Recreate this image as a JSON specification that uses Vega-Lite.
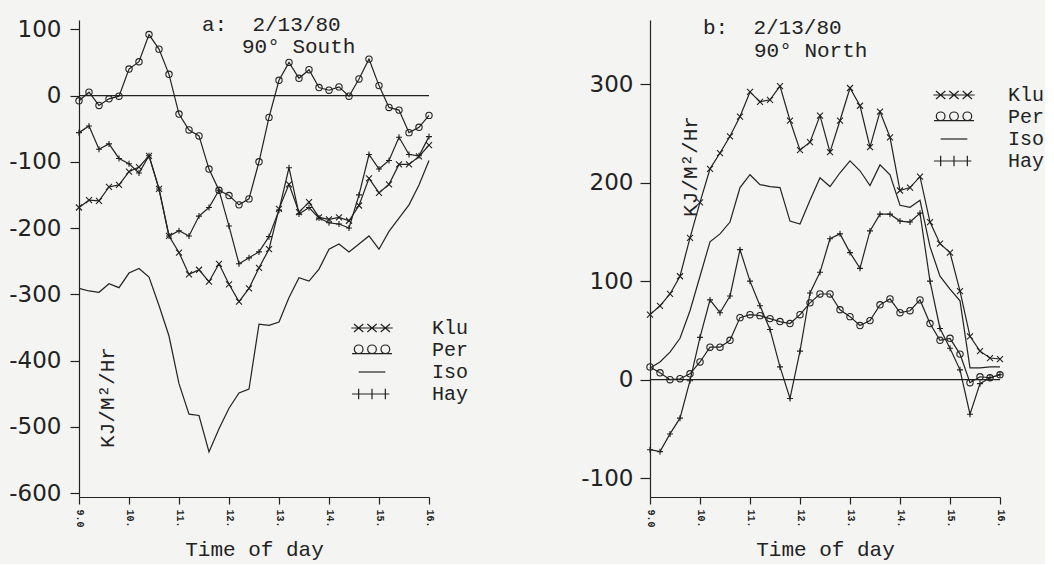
{
  "$schema": "https://vega.github.io/schema/vega-lite/v6.json",
  "background": "#f4f4f2",
  "padding": {"left": 8, "top": 13, "right": 0, "bottom": 4},
  "config": {
    "view": {"stroke": null},
    "axis": {"grid": false, "domainColor": "#222", "tickColor": "#222", "labelColor": "#222", "titleColor": "#222", "domainWidth": 1.2, "tickWidth": 1.2},
    "text": {"font": "Liberation Mono", "fontSize": 21, "color": "#222", "align": "left", "baseline": "alphabetic"}
  },
  "resolve": {"scale": {"shape": "independent"}, "legend": {"shape": "independent"}},
  "spacing": 111,
  "data": {"values": [
    {"panel":"a","series":"Klu","time":9,"value":-169},{"panel":"a","series":"Klu","time":9.2,"value":-158},{"panel":"a","series":"Klu","time":9.4,"value":-159},{"panel":"a","series":"Klu","time":9.6,"value":-138},{"panel":"a","series":"Klu","time":9.8,"value":-135},{"panel":"a","series":"Klu","time":10,"value":-115},{"panel":"a","series":"Klu","time":10.2,"value":-108},{"panel":"a","series":"Klu","time":10.4,"value":-91},{"panel":"a","series":"Klu","time":10.6,"value":-141},{"panel":"a","series":"Klu","time":10.8,"value":-212},{"panel":"a","series":"Klu","time":11,"value":-237},{"panel":"a","series":"Klu","time":11.2,"value":-270},{"panel":"a","series":"Klu","time":11.4,"value":-263},{"panel":"a","series":"Klu","time":11.6,"value":-281},{"panel":"a","series":"Klu","time":11.8,"value":-254},{"panel":"a","series":"Klu","time":12,"value":-285},{"panel":"a","series":"Klu","time":12.2,"value":-311},{"panel":"a","series":"Klu","time":12.4,"value":-291},{"panel":"a","series":"Klu","time":12.6,"value":-260},{"panel":"a","series":"Klu","time":12.8,"value":-232},{"panel":"a","series":"Klu","time":13,"value":-171},{"panel":"a","series":"Klu","time":13.2,"value":-134},{"panel":"a","series":"Klu","time":13.4,"value":-176},{"panel":"a","series":"Klu","time":13.6,"value":-161},{"panel":"a","series":"Klu","time":13.8,"value":-184},{"panel":"a","series":"Klu","time":14,"value":-187},{"panel":"a","series":"Klu","time":14.2,"value":-184},{"panel":"a","series":"Klu","time":14.4,"value":-189},{"panel":"a","series":"Klu","time":14.6,"value":-166},{"panel":"a","series":"Klu","time":14.8,"value":-125},{"panel":"a","series":"Klu","time":15,"value":-147},{"panel":"a","series":"Klu","time":15.2,"value":-134},{"panel":"a","series":"Klu","time":15.4,"value":-104},{"panel":"a","series":"Klu","time":15.6,"value":-104},{"panel":"a","series":"Klu","time":15.8,"value":-92},{"panel":"a","series":"Klu","time":16,"value":-75},
    {"panel":"a","series":"Per","time":9,"value":-8},{"panel":"a","series":"Per","time":9.2,"value":5},{"panel":"a","series":"Per","time":9.4,"value":-15},{"panel":"a","series":"Per","time":9.6,"value":-5},{"panel":"a","series":"Per","time":9.8,"value":-1},{"panel":"a","series":"Per","time":10,"value":40},{"panel":"a","series":"Per","time":10.2,"value":51},{"panel":"a","series":"Per","time":10.4,"value":92},{"panel":"a","series":"Per","time":10.6,"value":70},{"panel":"a","series":"Per","time":10.8,"value":32},{"panel":"a","series":"Per","time":11,"value":-28},{"panel":"a","series":"Per","time":11.2,"value":-52},{"panel":"a","series":"Per","time":11.4,"value":-61},{"panel":"a","series":"Per","time":11.6,"value":-111},{"panel":"a","series":"Per","time":11.8,"value":-143},{"panel":"a","series":"Per","time":12,"value":-151},{"panel":"a","series":"Per","time":12.2,"value":-165},{"panel":"a","series":"Per","time":12.4,"value":-156},{"panel":"a","series":"Per","time":12.6,"value":-100},{"panel":"a","series":"Per","time":12.8,"value":-33},{"panel":"a","series":"Per","time":13,"value":23},{"panel":"a","series":"Per","time":13.2,"value":50},{"panel":"a","series":"Per","time":13.4,"value":26},{"panel":"a","series":"Per","time":13.6,"value":39},{"panel":"a","series":"Per","time":13.8,"value":12},{"panel":"a","series":"Per","time":14,"value":8},{"panel":"a","series":"Per","time":14.2,"value":13},{"panel":"a","series":"Per","time":14.4,"value":-1},{"panel":"a","series":"Per","time":14.6,"value":25},{"panel":"a","series":"Per","time":14.8,"value":55},{"panel":"a","series":"Per","time":15,"value":15},{"panel":"a","series":"Per","time":15.2,"value":-18},{"panel":"a","series":"Per","time":15.4,"value":-22},{"panel":"a","series":"Per","time":15.6,"value":-56},{"panel":"a","series":"Per","time":15.8,"value":-48},{"panel":"a","series":"Per","time":16,"value":-30},
    {"panel":"a","series":"Iso","time":9,"value":-291},{"panel":"a","series":"Iso","time":9.2,"value":-295},{"panel":"a","series":"Iso","time":9.4,"value":-297},{"panel":"a","series":"Iso","time":9.6,"value":-284},{"panel":"a","series":"Iso","time":9.8,"value":-290},{"panel":"a","series":"Iso","time":10,"value":-268},{"panel":"a","series":"Iso","time":10.2,"value":-261},{"panel":"a","series":"Iso","time":10.4,"value":-274},{"panel":"a","series":"Iso","time":10.6,"value":-317},{"panel":"a","series":"Iso","time":10.8,"value":-363},{"panel":"a","series":"Iso","time":11,"value":-435},{"panel":"a","series":"Iso","time":11.2,"value":-481},{"panel":"a","series":"Iso","time":11.4,"value":-483},{"panel":"a","series":"Iso","time":11.6,"value":-538},{"panel":"a","series":"Iso","time":11.8,"value":-503},{"panel":"a","series":"Iso","time":12,"value":-472},{"panel":"a","series":"Iso","time":12.2,"value":-449},{"panel":"a","series":"Iso","time":12.4,"value":-443},{"panel":"a","series":"Iso","time":12.6,"value":-345},{"panel":"a","series":"Iso","time":12.8,"value":-347},{"panel":"a","series":"Iso","time":13,"value":-342},{"panel":"a","series":"Iso","time":13.2,"value":-305},{"panel":"a","series":"Iso","time":13.4,"value":-275},{"panel":"a","series":"Iso","time":13.6,"value":-280},{"panel":"a","series":"Iso","time":13.8,"value":-262},{"panel":"a","series":"Iso","time":14,"value":-232},{"panel":"a","series":"Iso","time":14.2,"value":-224},{"panel":"a","series":"Iso","time":14.4,"value":-236},{"panel":"a","series":"Iso","time":14.6,"value":-224},{"panel":"a","series":"Iso","time":14.8,"value":-212},{"panel":"a","series":"Iso","time":15,"value":-232},{"panel":"a","series":"Iso","time":15.2,"value":-205},{"panel":"a","series":"Iso","time":15.4,"value":-185},{"panel":"a","series":"Iso","time":15.6,"value":-165},{"panel":"a","series":"Iso","time":15.8,"value":-135},{"panel":"a","series":"Iso","time":16,"value":-98},
    {"panel":"a","series":"Hay","time":9,"value":-56},{"panel":"a","series":"Hay","time":9.2,"value":-46},{"panel":"a","series":"Hay","time":9.4,"value":-81},{"panel":"a","series":"Hay","time":9.6,"value":-73},{"panel":"a","series":"Hay","time":9.8,"value":-95},{"panel":"a","series":"Hay","time":10,"value":-103},{"panel":"a","series":"Hay","time":10.2,"value":-117},{"panel":"a","series":"Hay","time":10.4,"value":-91},{"panel":"a","series":"Hay","time":10.6,"value":-141},{"panel":"a","series":"Hay","time":10.8,"value":-212},{"panel":"a","series":"Hay","time":11,"value":-204},{"panel":"a","series":"Hay","time":11.2,"value":-212},{"panel":"a","series":"Hay","time":11.4,"value":-182},{"panel":"a","series":"Hay","time":11.6,"value":-169},{"panel":"a","series":"Hay","time":11.8,"value":-143},{"panel":"a","series":"Hay","time":12,"value":-197},{"panel":"a","series":"Hay","time":12.2,"value":-254},{"panel":"a","series":"Hay","time":12.4,"value":-245},{"panel":"a","series":"Hay","time":12.6,"value":-236},{"panel":"a","series":"Hay","time":12.8,"value":-213},{"panel":"a","series":"Hay","time":13,"value":-173},{"panel":"a","series":"Hay","time":13.2,"value":-109},{"panel":"a","series":"Hay","time":13.4,"value":-179},{"panel":"a","series":"Hay","time":13.6,"value":-169},{"panel":"a","series":"Hay","time":13.8,"value":-185},{"panel":"a","series":"Hay","time":14,"value":-192},{"panel":"a","series":"Hay","time":14.2,"value":-194},{"panel":"a","series":"Hay","time":14.4,"value":-200},{"panel":"a","series":"Hay","time":14.6,"value":-150},{"panel":"a","series":"Hay","time":14.8,"value":-89},{"panel":"a","series":"Hay","time":15,"value":-111},{"panel":"a","series":"Hay","time":15.2,"value":-98},{"panel":"a","series":"Hay","time":15.4,"value":-63},{"panel":"a","series":"Hay","time":15.6,"value":-89},{"panel":"a","series":"Hay","time":15.8,"value":-91},{"panel":"a","series":"Hay","time":16,"value":-62},
    {"panel":"b","series":"Klu","time":9,"value":66},{"panel":"b","series":"Klu","time":9.2,"value":75},{"panel":"b","series":"Klu","time":9.4,"value":87},{"panel":"b","series":"Klu","time":9.6,"value":105},{"panel":"b","series":"Klu","time":9.8,"value":144},{"panel":"b","series":"Klu","time":10,"value":180},{"panel":"b","series":"Klu","time":10.2,"value":214},{"panel":"b","series":"Klu","time":10.4,"value":230},{"panel":"b","series":"Klu","time":10.6,"value":247},{"panel":"b","series":"Klu","time":10.8,"value":267},{"panel":"b","series":"Klu","time":11,"value":292},{"panel":"b","series":"Klu","time":11.2,"value":282},{"panel":"b","series":"Klu","time":11.4,"value":284},{"panel":"b","series":"Klu","time":11.6,"value":298},{"panel":"b","series":"Klu","time":11.8,"value":263},{"panel":"b","series":"Klu","time":12,"value":233},{"panel":"b","series":"Klu","time":12.2,"value":241},{"panel":"b","series":"Klu","time":12.4,"value":268},{"panel":"b","series":"Klu","time":12.6,"value":231},{"panel":"b","series":"Klu","time":12.8,"value":263},{"panel":"b","series":"Klu","time":13,"value":296},{"panel":"b","series":"Klu","time":13.2,"value":278},{"panel":"b","series":"Klu","time":13.4,"value":236},{"panel":"b","series":"Klu","time":13.6,"value":272},{"panel":"b","series":"Klu","time":13.8,"value":246},{"panel":"b","series":"Klu","time":14,"value":192},{"panel":"b","series":"Klu","time":14.2,"value":195},{"panel":"b","series":"Klu","time":14.4,"value":206},{"panel":"b","series":"Klu","time":14.6,"value":160},{"panel":"b","series":"Klu","time":14.8,"value":138},{"panel":"b","series":"Klu","time":15,"value":129},{"panel":"b","series":"Klu","time":15.2,"value":90},{"panel":"b","series":"Klu","time":15.4,"value":44},{"panel":"b","series":"Klu","time":15.6,"value":29},{"panel":"b","series":"Klu","time":15.8,"value":22},{"panel":"b","series":"Klu","time":16,"value":21},
    {"panel":"b","series":"Per","time":9,"value":13},{"panel":"b","series":"Per","time":9.2,"value":7},{"panel":"b","series":"Per","time":9.4,"value":0},{"panel":"b","series":"Per","time":9.6,"value":1},{"panel":"b","series":"Per","time":9.8,"value":6},{"panel":"b","series":"Per","time":10,"value":18},{"panel":"b","series":"Per","time":10.2,"value":33},{"panel":"b","series":"Per","time":10.4,"value":33},{"panel":"b","series":"Per","time":10.6,"value":40},{"panel":"b","series":"Per","time":10.8,"value":63},{"panel":"b","series":"Per","time":11,"value":66},{"panel":"b","series":"Per","time":11.2,"value":65},{"panel":"b","series":"Per","time":11.4,"value":62},{"panel":"b","series":"Per","time":11.6,"value":59},{"panel":"b","series":"Per","time":11.8,"value":57},{"panel":"b","series":"Per","time":12,"value":66},{"panel":"b","series":"Per","time":12.2,"value":78},{"panel":"b","series":"Per","time":12.4,"value":87},{"panel":"b","series":"Per","time":12.6,"value":87},{"panel":"b","series":"Per","time":12.8,"value":71},{"panel":"b","series":"Per","time":13,"value":64},{"panel":"b","series":"Per","time":13.2,"value":55},{"panel":"b","series":"Per","time":13.4,"value":60},{"panel":"b","series":"Per","time":13.6,"value":76},{"panel":"b","series":"Per","time":13.8,"value":82},{"panel":"b","series":"Per","time":14,"value":68},{"panel":"b","series":"Per","time":14.2,"value":70},{"panel":"b","series":"Per","time":14.4,"value":81},{"panel":"b","series":"Per","time":14.6,"value":57},{"panel":"b","series":"Per","time":14.8,"value":40},{"panel":"b","series":"Per","time":15,"value":42},{"panel":"b","series":"Per","time":15.2,"value":26},{"panel":"b","series":"Per","time":15.4,"value":-3},{"panel":"b","series":"Per","time":15.6,"value":3},{"panel":"b","series":"Per","time":15.8,"value":2},{"panel":"b","series":"Per","time":16,"value":5},
    {"panel":"b","series":"Iso","time":9,"value":12},{"panel":"b","series":"Iso","time":9.2,"value":18},{"panel":"b","series":"Iso","time":9.4,"value":28},{"panel":"b","series":"Iso","time":9.6,"value":42},{"panel":"b","series":"Iso","time":9.8,"value":70},{"panel":"b","series":"Iso","time":10,"value":105},{"panel":"b","series":"Iso","time":10.2,"value":140},{"panel":"b","series":"Iso","time":10.4,"value":148},{"panel":"b","series":"Iso","time":10.6,"value":160},{"panel":"b","series":"Iso","time":10.8,"value":195},{"panel":"b","series":"Iso","time":11,"value":208},{"panel":"b","series":"Iso","time":11.2,"value":198},{"panel":"b","series":"Iso","time":11.4,"value":196},{"panel":"b","series":"Iso","time":11.6,"value":195},{"panel":"b","series":"Iso","time":11.8,"value":161},{"panel":"b","series":"Iso","time":12,"value":158},{"panel":"b","series":"Iso","time":12.2,"value":182},{"panel":"b","series":"Iso","time":12.4,"value":205},{"panel":"b","series":"Iso","time":12.6,"value":196},{"panel":"b","series":"Iso","time":12.8,"value":210},{"panel":"b","series":"Iso","time":13,"value":222},{"panel":"b","series":"Iso","time":13.2,"value":212},{"panel":"b","series":"Iso","time":13.4,"value":197},{"panel":"b","series":"Iso","time":13.6,"value":218},{"panel":"b","series":"Iso","time":13.8,"value":208},{"panel":"b","series":"Iso","time":14,"value":177},{"panel":"b","series":"Iso","time":14.2,"value":175},{"panel":"b","series":"Iso","time":14.4,"value":182},{"panel":"b","series":"Iso","time":14.6,"value":135},{"panel":"b","series":"Iso","time":14.8,"value":105},{"panel":"b","series":"Iso","time":15,"value":92},{"panel":"b","series":"Iso","time":15.2,"value":80},{"panel":"b","series":"Iso","time":15.4,"value":12},{"panel":"b","series":"Iso","time":15.6,"value":12},{"panel":"b","series":"Iso","time":15.8,"value":13},{"panel":"b","series":"Iso","time":16,"value":13},
    {"panel":"b","series":"Hay","time":9,"value":-71},{"panel":"b","series":"Hay","time":9.2,"value":-73},{"panel":"b","series":"Hay","time":9.4,"value":-55},{"panel":"b","series":"Hay","time":9.6,"value":-39},{"panel":"b","series":"Hay","time":9.8,"value":-1},{"panel":"b","series":"Hay","time":10,"value":43},{"panel":"b","series":"Hay","time":10.2,"value":81},{"panel":"b","series":"Hay","time":10.4,"value":68},{"panel":"b","series":"Hay","time":10.6,"value":85},{"panel":"b","series":"Hay","time":10.8,"value":132},{"panel":"b","series":"Hay","time":11,"value":100},{"panel":"b","series":"Hay","time":11.2,"value":75},{"panel":"b","series":"Hay","time":11.4,"value":51},{"panel":"b","series":"Hay","time":11.6,"value":13},{"panel":"b","series":"Hay","time":11.8,"value":-19},{"panel":"b","series":"Hay","time":12,"value":29},{"panel":"b","series":"Hay","time":12.2,"value":88},{"panel":"b","series":"Hay","time":12.4,"value":109},{"panel":"b","series":"Hay","time":12.6,"value":143},{"panel":"b","series":"Hay","time":12.8,"value":148},{"panel":"b","series":"Hay","time":13,"value":129},{"panel":"b","series":"Hay","time":13.2,"value":113},{"panel":"b","series":"Hay","time":13.4,"value":151},{"panel":"b","series":"Hay","time":13.6,"value":168},{"panel":"b","series":"Hay","time":13.8,"value":168},{"panel":"b","series":"Hay","time":14,"value":161},{"panel":"b","series":"Hay","time":14.2,"value":160},{"panel":"b","series":"Hay","time":14.4,"value":169},{"panel":"b","series":"Hay","time":14.6,"value":100},{"panel":"b","series":"Hay","time":14.8,"value":52},{"panel":"b","series":"Hay","time":15,"value":32},{"panel":"b","series":"Hay","time":15.2,"value":10},{"panel":"b","series":"Hay","time":15.4,"value":-35},{"panel":"b","series":"Hay","time":15.6,"value":-4},{"panel":"b","series":"Hay","time":15.8,"value":2},{"panel":"b","series":"Hay","time":16,"value":5}
  ]},
  "hconcat": [
    {
      "width": 350, "height": 477,
      "transform": [{"filter": "datum.panel == 'a'"}],
      "layer": [
        {"data": {"values": [{}]}, "mark": {"type": "rule", "color": "#222", "strokeWidth": 1.2}, "encoding": {"y": {"datum": 0, "type": "quantitative"}}},
        {"mark": {"type": "line", "color": "#222", "strokeWidth": 1.2},
         "encoding": {
           "x": {"field": "time", "type": "quantitative", "scale": {"domain": [9, 16], "nice": false, "zero": false},
                 "axis": {"values": [9, 10, 11, 12, 13, 14, 15, 16], "labelExpr": "datum.value == 9 ? '9.0' : datum.value + '.'", "labelAngle": 90, "labelAlign": "left", "labelBaseline": "middle", "labelFont": "Liberation Mono", "labelFontSize": 10, "labelFontWeight": "bold", "tickSize": 7, "labelPadding": 5, "title": "Time of day", "titleFont": "Liberation Mono", "titleFontSize": 21, "titleFontWeight": "normal", "titlePadding": 11}},
           "y": {"field": "value", "type": "quantitative", "scale": {"domain": [-606, 114], "nice": false, "zero": false},
                 "axis": {"values": [100, 0, -100, -200, -300, -400, -500, -600], "labelExpr": "'' + datum.value", "labelFont": "DejaVu Sans", "labelFontSize": 23, "tickSize": 9, "labelPadding": 9, "title": "KJ/M²/Hr", "titleFont": "Liberation Mono", "titleFontSize": 21, "titleFontWeight": "normal", "titleAngle": 270, "titleX": 28, "titleY": 377, "titleAlign": "center", "titleBaseline": "middle"}},
           "detail": {"field": "series", "type": "nominal"}
         }},
        {"transform": [{"filter": "datum.series == 'Klu'"}], "mark": {"type": "point", "shape": "M-1,-1L1,1M-1,1L1,-1", "size": 36, "filled": false, "color": "#222", "strokeWidth": 1.1, "opacity": 1},
         "encoding": {"x": {"field": "time", "type": "quantitative"}, "y": {"field": "value", "type": "quantitative"}}},
        {"transform": [{"filter": "datum.series == 'Per'"}], "mark": {"type": "point", "shape": "circle", "size": 40, "filled": false, "color": "#222", "strokeWidth": 1.1, "opacity": 1},
         "encoding": {"x": {"field": "time", "type": "quantitative"}, "y": {"field": "value", "type": "quantitative"}}},
        {"transform": [{"filter": "datum.series == 'Hay'"}], "mark": {"type": "point", "shape": "M-1,0L1,0M0,-1L0,1", "size": 36, "filled": false, "color": "#222", "strokeWidth": 1.1, "opacity": 1},
         "encoding": {"x": {"field": "time", "type": "quantitative"}, "y": {"field": "value", "type": "quantitative"}}},
        {"data": {"values": [{}]}, "mark": {"type": "text"}, "encoding": {"x": {"datum": 11.46, "type": "quantitative"}, "y": {"datum": 97.4, "type": "quantitative"}, "text": {"value": "a:\u00a0\u00a02/13/80"}}},
        {"data": {"values": [{}]}, "mark": {"type": "text"}, "encoding": {"x": {"datum": 12.26, "type": "quantitative"}, "y": {"datum": 64.2, "type": "quantitative"}, "text": {"value": "90° South"}}},
        {"transform": [{"filter": "datum.series == 'none'"}], "mark": {"type": "point", "filled": false, "color": "#222", "size": 178, "strokeWidth": 1.2, "opacity": 1},
         "encoding": {"x": {"field": "time", "type": "quantitative"}, "y": {"field": "value", "type": "quantitative"},
           "shape": {"field": "series", "type": "nominal",
             "scale": {"domain": ["Klu", "Per", "Iso", "Hay"], "range": [
               "M-3.1,0L3.1,0M-2.7,-0.6L-1.3,0.6M-2.7,0.6L-1.3,-0.6M-0.7,-0.6L0.7,0.6M-0.7,0.6L0.7,-0.6M1.3,-0.6L2.7,0.6M1.3,0.6L2.7,-0.6",
               "M-3,0.55L3,0.55M-2.65,-0.1A0.65,0.65 0 1,0 -1.35,-0.1A0.65,0.65 0 1,0 -2.65,-0.1M-0.65,-0.1A0.65,0.65 0 1,0 0.65,-0.1A0.65,0.65 0 1,0 -0.65,-0.1M1.35,-0.1A0.65,0.65 0 1,0 2.65,-0.1A0.65,0.65 0 1,0 1.35,-0.1",
               "M-2,0L2,0",
               "M-3,0L2.6,0M-2,-0.8L-2,0.8M0,-0.8L0,0.8M2,-0.8L2,0.8"]},
             "legend": {"orient": "none", "legendX": 283, "legendY": 298, "title": null, "padding": 0, "labelFont": "Liberation Mono", "labelFontSize": 20, "labelColor": "#222", "labelOffset": 50, "rowPadding": 2, "symbolSize": 178, "symbolStrokeColor": "#222", "symbolFillColor": "transparent", "symbolStrokeWidth": 1.2, "symbolOpacity": 1}}}}
      ]
    },
    {
      "width": 350, "height": 477,
      "transform": [{"filter": "datum.panel == 'b'"}],
      "layer": [
        {"data": {"values": [{}]}, "mark": {"type": "rule", "color": "#222", "strokeWidth": 1.2}, "encoding": {"y": {"datum": 0, "type": "quantitative"}}},
        {"mark": {"type": "line", "color": "#222", "strokeWidth": 1.2},
         "encoding": {
           "x": {"field": "time", "type": "quantitative", "scale": {"domain": [9, 16], "nice": false, "zero": false},
                 "axis": {"values": [9, 10, 11, 12, 13, 14, 15, 16], "labelExpr": "datum.value == 9 ? '9.0' : datum.value + '.'", "labelAngle": 90, "labelAlign": "left", "labelBaseline": "middle", "labelFont": "Liberation Mono", "labelFontSize": 10, "labelFontWeight": "bold", "tickSize": 7, "labelPadding": 5, "title": "Time of day", "titleFont": "Liberation Mono", "titleFontSize": 21, "titleFontWeight": "normal", "titlePadding": 11}},
           "y": {"field": "value", "type": "quantitative", "scale": {"domain": [-119, 365], "nice": false, "zero": false},
                 "axis": {"values": [300, 200, 100, 0, -100], "labelExpr": "'' + datum.value", "labelFont": "DejaVu Sans", "labelFontSize": 23, "tickSize": 10, "labelPadding": 7, "title": "KJ/M²/Hr", "titleFont": "Liberation Mono", "titleFontSize": 21, "titleFontWeight": "normal", "titleAngle": 270, "titleX": 40, "titleY": 146, "titleAlign": "center", "titleBaseline": "middle"}},
           "detail": {"field": "series", "type": "nominal"}
         }},
        {"transform": [{"filter": "datum.series == 'Klu'"}], "mark": {"type": "point", "shape": "M-1,-1L1,1M-1,1L1,-1", "size": 36, "filled": false, "color": "#222", "strokeWidth": 1.1, "opacity": 1},
         "encoding": {"x": {"field": "time", "type": "quantitative"}, "y": {"field": "value", "type": "quantitative"}}},
        {"transform": [{"filter": "datum.series == 'Per'"}], "mark": {"type": "point", "shape": "circle", "size": 40, "filled": false, "color": "#222", "strokeWidth": 1.1, "opacity": 1},
         "encoding": {"x": {"field": "time", "type": "quantitative"}, "y": {"field": "value", "type": "quantitative"}}},
        {"transform": [{"filter": "datum.series == 'Hay'"}], "mark": {"type": "point", "shape": "M-1,0L1,0M0,-1L0,1", "size": 36, "filled": false, "color": "#222", "strokeWidth": 1.1, "opacity": 1},
         "encoding": {"x": {"field": "time", "type": "quantitative"}, "y": {"field": "value", "type": "quantitative"}}},
        {"data": {"values": [{}]}, "mark": {"type": "text"}, "encoding": {"x": {"datum": 10.06, "type": "quantitative"}, "y": {"datum": 350.8, "type": "quantitative"}, "text": {"value": "b:\u00a0\u00a02/13/80"}}},
        {"data": {"values": [{}]}, "mark": {"type": "text"}, "encoding": {"x": {"datum": 11.08, "type": "quantitative"}, "y": {"datum": 327.4, "type": "quantitative"}, "text": {"value": "90° North"}}},
        {"transform": [{"filter": "datum.series == 'none'"}], "mark": {"type": "point", "filled": false, "color": "#222", "size": 178, "strokeWidth": 1.2, "opacity": 1},
         "encoding": {"x": {"field": "time", "type": "quantitative"}, "y": {"field": "value", "type": "quantitative"},
           "shape": {"field": "series", "type": "nominal",
             "scale": {"domain": ["Klu", "Per", "Iso", "Hay"], "range": [
               "M-3.1,0L3.1,0M-2.7,-0.6L-1.3,0.6M-2.7,0.6L-1.3,-0.6M-0.7,-0.6L0.7,0.6M-0.7,0.6L0.7,-0.6M1.3,-0.6L2.7,0.6M1.3,0.6L2.7,-0.6",
               "M-3,0.55L3,0.55M-2.65,-0.1A0.65,0.65 0 1,0 -1.35,-0.1A0.65,0.65 0 1,0 -2.65,-0.1M-0.65,-0.1A0.65,0.65 0 1,0 0.65,-0.1A0.65,0.65 0 1,0 -0.65,-0.1M1.35,-0.1A0.65,0.65 0 1,0 2.65,-0.1A0.65,0.65 0 1,0 1.35,-0.1",
               "M-2,0L2,0",
               "M-3,0L2.6,0M-2,-0.8L-2,0.8M0,-0.8L0,0.8M2,-0.8L2,0.8"]},
             "legend": {"orient": "none", "legendX": 294, "legendY": 65, "title": null, "padding": 0, "labelFont": "Liberation Mono", "labelFontSize": 20, "labelColor": "#222", "labelOffset": 44, "rowPadding": 2, "symbolSize": 178, "symbolStrokeColor": "#222", "symbolFillColor": "transparent", "symbolStrokeWidth": 1.2, "symbolOpacity": 1}}}}
      ]
    }
  ]
}
